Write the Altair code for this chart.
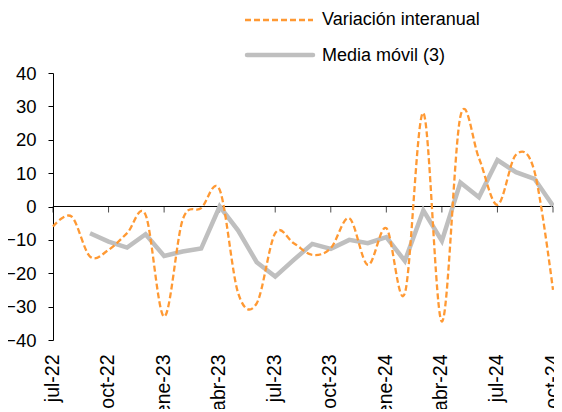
import altair as alt
import pandas as pd

months = ["jul-22", "ago-22", "sep-22", "oct-22", "nov-22", "dic-22",
          "ene-23", "feb-23", "mar-23", "abr-23", "may-23", "jun-23",
          "jul-23", "ago-23", "sep-23", "oct-23", "nov-23", "dic-23",
          "ene-24", "feb-24", "mar-24", "abr-24", "may-24", "jun-24",
          "jul-24", "ago-24", "sep-24", "oct-24"]
variacion = [-6, -3, -15, -13, -8, -2.5, -33, -4, -0.5, 5, -26, -29,
             -8, -11, -14.5, -12.5, -3.5, -17.5, -6.5, -26, 28, -34.5,
             27, 14.5, 0.5, 15.5, 10.5, -25]
media = [None, None, -8, -10.5, -12.3, -8.3, -14.8, -13.5, -12.6, 0, -7.2, -16.7,
         -21, -16, -11.2, -12.7, -10, -11, -9.2, -16.3, -1.2, -10.3,
         7.2, 2.8, 13.9, 10.3, 8.3, 0.2]
tick_idx = list(range(0, 28, 3))
tick_labels = [months[i] for i in tick_idx]
y_ticks = list(range(-40, 41, 10))
series_names = ["Variación interanual", "Media móvil (3)"]

ORANGE = "#FF9933"
GRAY = "#BFBFBF"
FONT = "Liberation Sans"

df = pd.DataFrame({"idx": list(range(len(months))), "mes": months,
                   "variacion": variacion, "media": media})
ticks_df = pd.DataFrame({"idx": tick_idx, "lab": tick_labels, "zero": [0] * len(tick_idx)})
one_df = pd.DataFrame({"zero": [0]})

label_js = "[" + ",".join("'" + s + "'" for s in tick_labels) + "]"

xscale = alt.Scale(domain=[0, 27], nice=False, zero=False)
yscale = alt.Scale(domain=[-40, 40], nice=False)

x_axis = alt.Axis(values=tick_idx, labelExpr=label_js + "[round(datum.value/3)]",
                  labelAngle=270, domain=False, ticks=False, grid=False,
                  labelFontSize=19.5, labelFont=FONT, labelColor="#000000",
                  labelPadding=14, labelOffset=-1, title=None,
                  labelOverlap=False, labelBound=False, labelFlush=False)
y_axis = alt.Axis(values=y_ticks, grid=False,
                  domainColor="#000000", tickColor="#000000", tickSize=5,
                  labelFontSize=18.5, labelFont=FONT, labelColor="#000000",
                  labelPadding=12, title=None, labelOverlap=False,
                  labelBound=False, labelFlush=False)

def xe():
    return alt.X("idx:Q", scale=xscale, axis=x_axis)

def ye(field):
    return alt.Y(field + ":Q", scale=yscale, axis=y_axis)

base = alt.Chart(df)

orange = base.mark_line(color=ORANGE, strokeDash=[6, 3], strokeWidth=2.3,
                        interpolate="cardinal").encode(x=xe(), y=ye("variacion"))
gray = base.transform_filter("datum.media != null").mark_line(
    color=GRAY, strokeWidth=4.5, strokeJoin="miter").encode(x=xe(), y=ye("media"))

zero_line = alt.Chart(one_df).mark_rule(color="#000000", strokeWidth=1).encode(
    y=ye("zero"), x=alt.value(0), x2=alt.value(500))
zero_ticks = alt.Chart(ticks_df).mark_tick(color="#000000", orient="vertical",
                                           size=6, thickness=1, yOffset=3).encode(
    x=xe(), y=ye("zero"))

leg1_line = alt.Chart(one_df).mark_rule(color=ORANGE, strokeDash=[6, 3], strokeWidth=2.3).encode(
    x=alt.value(192), x2=alt.value(260), y=alt.value(-53))
leg1_text = alt.Chart(one_df).mark_text(text=series_names[0], align="left", baseline="middle",
                                        fontSize=18, font=FONT, fontWeight=400,
                                        color="#000000").encode(
    x=alt.value(269), y=alt.value(-53))
leg2_line = alt.Chart(one_df).mark_rule(color=GRAY, strokeWidth=4.5, strokeCap="round").encode(
    x=alt.value(194), x2=alt.value(260), y=alt.value(-18))
leg2_text = alt.Chart(one_df).mark_text(text=series_names[1], align="left", baseline="middle",
                                        fontSize=18, font=FONT, fontWeight=400,
                                        color="#000000").encode(
    x=alt.value(269), y=alt.value(-17))

chart = alt.layer(zero_line, zero_ticks, gray, orange,
                  leg1_line, leg1_text, leg2_line, leg2_text).properties(
    width=500, height=267,
    autosize=alt.AutoSizeParams(type="none"),
    padding={"left": 45, "top": 65, "right": 1, "bottom": 69},
    background="#FFFFFF",
).configure_view(stroke=None)

chart.save("out.html", embed_options={"renderer": "svg", "actions": False})
